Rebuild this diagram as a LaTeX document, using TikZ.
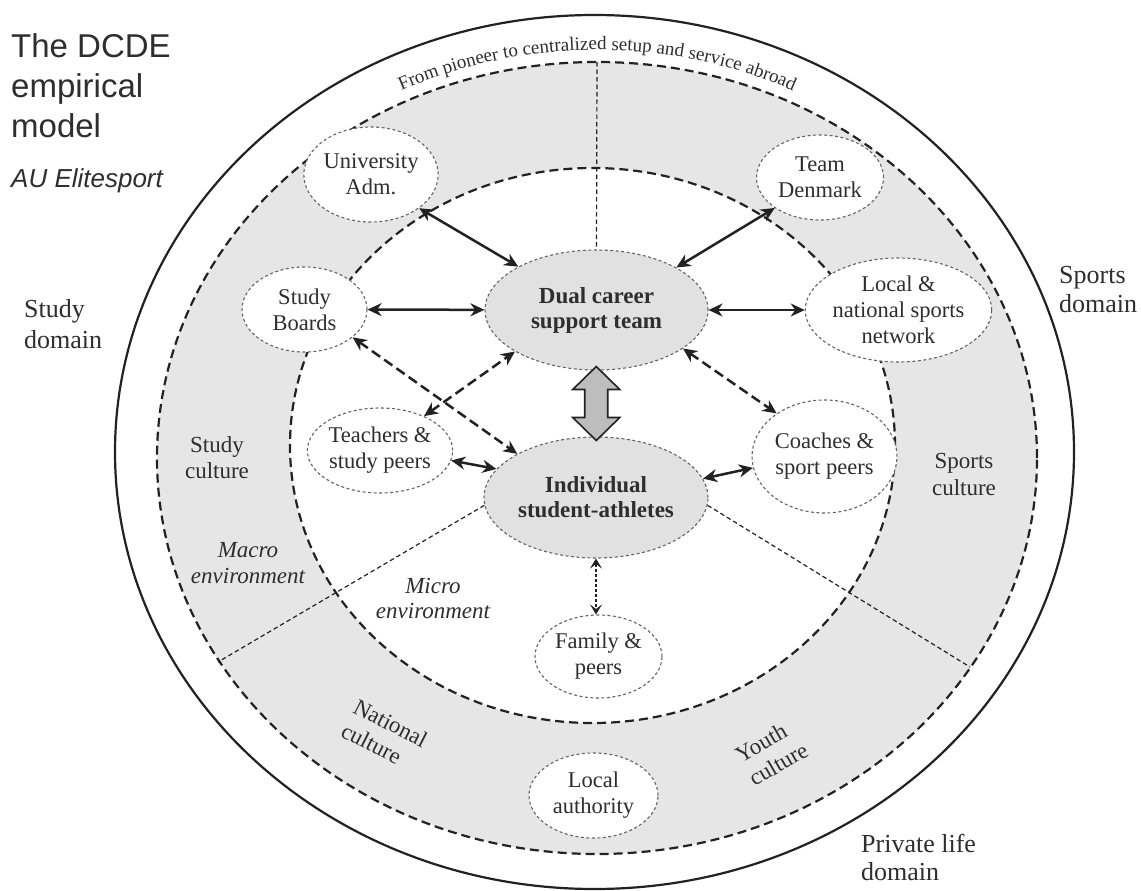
\documentclass[tikz,border=0pt]{standalone}
\usepackage{fontspec}
\setmainfont{Liberation Serif}
\setsansfont{Liberation Sans}
\usetikzlibrary{shapes.geometric,arrows.meta,decorations.text,calc}
\pgfdeclarelayer{background}
\pgfsetlayers{background,main}
\definecolor{band}{HTML}{E6E6E6}
\definecolor{nodegray}{HTML}{E1E1E1}
\definecolor{fatgray}{HTML}{BDBDBD}
\definecolor{ink}{HTML}{222222}
\definecolor{txt}{HTML}{2E2E2E}
\begin{document}
\begin{tikzpicture}[x=1pt,y=1pt,
  every node/.style={text=txt},
  bubble/.style={ellipse, draw=ink!70, line width=1.1pt, dash pattern=on 3pt off 2.5pt,
    fill=white, inner sep=0pt, align=center, font=\fontsize{22.5}{26}\selectfont},
  core/.style={bubble, fill=nodegray, font=\fontsize{23}{25}\selectfont\bfseries},
  ring/.style={draw=ink, line width=2.2pt, dash pattern=on 9pt off 5pt},
  divider/.style={draw=ink, line width=1.2pt, dash pattern=on 4.5pt off 3pt},
  tipA/.tip={Stealth[length=14pt,width=13pt,inset=4.5pt]},
  tipB/.tip={Stealth[length=10pt,width=12pt,inset=4.5pt]},
  link/.style={draw=ink, line width=2.5pt, tipA-tipA},
  dlink/.style={link, dash pattern=on 10pt off 5pt},
  flink/.style={draw=ink, line width=1.4pt, dash pattern=on 3pt off 2pt, tipB-tipB},
  fat/.style={draw=ink, line width=1.6pt, fill=fatgray, line join=miter},
  lab/.style={anchor=base, inner sep=0pt, font=\fontsize{23}{26}\selectfont},
  dom/.style={anchor=base west, inner sep=0pt, font=\fontsize{26}{31}\selectfont},
  ttl/.style={anchor=base west, inner sep=0pt, font=\sffamily\fontsize{33}{39}\selectfont},
]
\useasboundingbox (0,0) rectangle (1141,-891);

% ---------- bubble nodes ----------
\node[core, minimum width=223, minimum height=120] (dual) at (596.5,-310) {Dual career\\support team};
\node[core, minimum width=224, minimum height=121] (ind) at (596,-497.5) {Individual\\student-athletes};
\node[bubble, minimum width=134, minimum height=95] (univ) at (371,-174.5) {University\\Adm.};
\node[bubble, minimum width=125, minimum height=85] (sb) at (304.5,-309.5) {Study\\Boards};
\node[bubble, minimum width=127, minimum height=85] (team) at (820,-177.5) {Team\\Denmark};
\node[bubble, minimum width=155, minimum height=104] (local) at (898.5,-310) {Local \&\\national sports\\network};
\node[bubble, minimum width=128, minimum height=85] (teach) at (380,-450.5) {Teachers \&\\study peers};
\node[bubble, minimum width=145, minimum height=113] (coach) at (824.5,-456.5) {Coaches \&\\sport peers};
\node[bubble, minimum width=127, minimum height=83] (family) at (598.5,-656.5) {Family \&\\peers};
\node[bubble, minimum width=129, minimum height=85] (auth) at (593.5,-795.5) {Local\\authority};

% ---------- free coordinates ----------
\coordinate (ctop) at (597,-62);
\coordinate (lend) at (218,-662);
\coordinate (rend) at (970,-667);
\coordinate (fa) at ($(dual.south)!0.5!(ind.north)$);

% ---------- background: rings, band, dividers ----------
\begin{pgfonlayer}{background}
  \fill[white] (0,0) rectangle (1141,-891);
  \fill[band, even odd rule] (597,-458) ellipse [x radius=440, y radius=396]
                             (592.5,-445.5) ellipse [x radius=302.5, y radius=277.5];
  \draw[ink, line width=2.2pt] (594.5,-452) ellipse [x radius=479.5, y radius=437];
  \draw[ring] (597,-458) ellipse [x radius=440, y radius=396];
  \draw[ring] (592.5,-445.5) ellipse [x radius=302.5, y radius=277.5];
  \draw[divider] (ctop) -- (dual.north);
  \draw[divider] (ind.184) -- (lend);
  \draw[divider] (ind.-4) -- (rend);
\end{pgfonlayer}

% ---------- arc text ----------
\path[decorate, decoration={text along path, text align=center,
  text={|\color{txt}\fontsize{19}{19}\selectfont|From pioneer to centralized setup and service abroad}}]
  (597,-455) ++(150:448 and 405) arc[start angle=150, end angle=30, x radius=448, y radius=405];

% ---------- connectors ----------
\draw[link] (univ.-35) -- (dual.151);
\draw[link] (sb) -- (dual);
\draw[link] (team.214) -- (dual.28);
\draw[link] (dual) -- (local);
\draw[dlink] (sb.-30) -- (ind.151);
\draw[dlink] (teach.38) -- (dual.207);
\draw[dlink] (dual.-24) -- (coach.138);
\draw[link] (teach.-8) -- (ind.164);
\draw[link] (ind.10) -- (coach.189);
\draw[flink] (ind.south) -- (ind.south |- family.north);

% fat double arrow between the two core nodes
\draw[fat] ($(fa)+(0,37)$) -- ++(23.5,-23) -- ++(-12,0) -- ++(0,-28) -- ++(12,0)
  -- ++(-23.5,-23) -- ++(-23.5,23) -- ++(12,0) -- ++(0,28) -- ++(-12,0) -- cycle;

% ---------- title ----------
\node[ttl] (t1) at (11,-58) {The DCDE};
\node[ttl] (t2) at (11,-97) {empirical};
\node[ttl] (t3) at (11,-137) {model};
\node[anchor=base west, inner sep=0pt, font=\sffamily\itshape\fontsize{26}{31}\selectfont] (t4) at (11,-187) {AU Elitesport};

% ---------- domain labels ----------
\node[dom] (sd1) at (24,-317) {Study};
\node[dom] (sd2) at (24,-348) {domain};
\node[dom] (spd1) at (1059,-283) {Sports};
\node[dom] (spd2) at (1059,-312) {domain};
\node[dom] (pd1) at (861,-852) {Private life};
\node[dom] (pd2) at (861,-880) {domain};

% ---------- culture / environment labels ----------
\node[lab] (sc1) at (217,-452) {Study};
\node[lab] (sc2) at (217,-478) {culture};
\node[lab] (spc1) at (964,-468) {Sports};
\node[lab] (spc2) at (964,-495) {culture};
\node[lab, font=\fontsize{23}{26}\selectfont\itshape] (ma1) at (248,-557) {Macro};
\node[lab, font=\fontsize{23}{26}\selectfont\itshape] (ma2) at (248,-583) {environment};
\node[lab, font=\fontsize{23}{26}\selectfont\itshape] (mi1) at (433,-593) {Micro};
\node[lab, font=\fontsize{23}{26}\selectfont\itshape] (mi2) at (433,-618) {environment};
\node[align=left, inner sep=0pt, rotate=-27, font=\fontsize{23}{27}\selectfont] (nat) at (384.5,-735) {National\\culture};
\node[align=left, inner sep=0pt, rotate=30, font=\fontsize{23}{27}\selectfont] (youth) at (771.5,-752.5) {Youth\\culture};
\end{tikzpicture}
\end{document}
